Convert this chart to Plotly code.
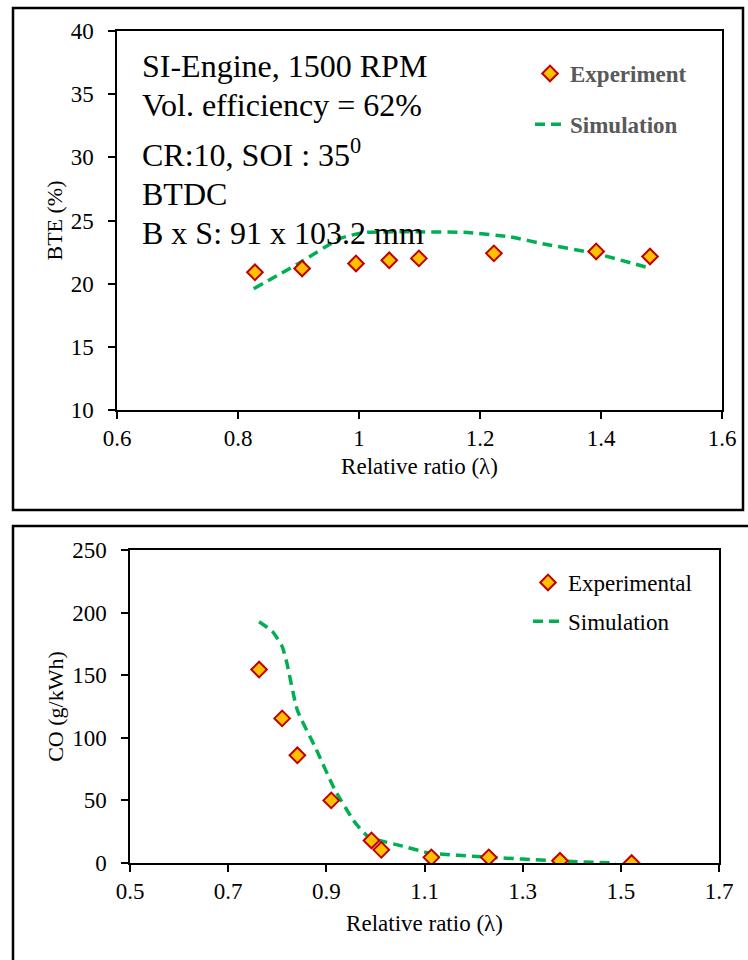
import plotly.graph_objects as go

# ---------------- data ----------------
# Top panel: brake thermal efficiency
bte_exp_lambda = [0.828, 0.906, 0.995, 1.05, 1.099, 1.223, 1.392, 1.481]
bte_exp = [20.9, 21.2, 21.6, 21.85, 22.0, 22.4, 22.55, 22.15]
bte_sim_lambda = [0.826, 0.90, 0.97, 1.01, 1.10, 1.18, 1.25, 1.31, 1.39, 1.483]
bte_sim = [19.6, 21.6, 23.6, 24.05, 24.1, 24.05, 23.7, 23.1, 22.4, 21.2]

# Bottom panel: CO emissions
co_exp_lambda = [0.763, 0.810, 0.841, 0.910, 0.992, 1.012, 1.114, 1.231, 1.376, 1.522]
co_exp = [154.5, 115.5, 86, 50, 18, 10.5, 4.5, 4.5, 1.8, 0]
co_sim_lambda = [0.763, 0.79, 0.81, 0.82, 0.841, 0.878, 0.918, 0.959, 0.988, 1.008,
                 1.055, 1.11, 1.224, 1.376, 1.49]
co_sim = [192.7, 185, 173, 159, 122, 92, 58, 32, 20, 18, 13.5, 8, 4.8, 1.6, 0]

top_xticks = [0.6, 0.8, 1.0, 1.2, 1.4, 1.6]
top_xticklabels = ["0.6", "0.8", "1", "1.2", "1.4", "1.6"]
top_yticks = [10, 15, 20, 25, 30, 35, 40]
bot_xticks = [0.5, 0.7, 0.9, 1.1, 1.3, 1.5, 1.7]
bot_yticks = [0, 50, 100, 150, 200, 250]

info_lines = ["SI-Engine, 1500 RPM", "Vol. efficiency = 62%",
              "CR:10, SOI : 35<sup>0</sup>", "BTDC", "B x S: 91 x 103.2 mm"]

W, H = 748, 960
FONT = "Liberation Serif"
GREEN = "#00B050"
MK = dict(symbol="diamond", size=12, color="#FFC000", line=dict(color="#C00000", width=2))
DASH = dict(color=GREEN, width=3.5, dash="10px,6px", shape="spline", smoothing=0.5)


def px(x):
    return x / W


def py(y):
    return 1 - y / H


fig = go.Figure()

# lines first so markers sit on top; legend order set by legendrank
fig.add_trace(go.Scatter(x=bte_sim_lambda, y=bte_sim, mode="lines", line=DASH,
                         name="Simulation", legend="legend", legendgroup="b", legendrank=2,
                         xaxis="x", yaxis="y"))
fig.add_trace(go.Scatter(x=bte_exp_lambda, y=bte_exp, mode="markers", marker=MK,
                         name="Experiment", legend="legend", legendgroup="a", legendrank=1,
                         xaxis="x", yaxis="y"))
fig.add_trace(go.Scatter(x=co_sim_lambda, y=co_sim, mode="lines", line=DASH,
                         name="Simulation", legend="legend2", legendgroup="d", legendrank=2,
                         xaxis="x2", yaxis="y2"))
fig.add_trace(go.Scatter(x=co_exp_lambda, y=co_exp, mode="markers", marker=MK,
                         name="Experimental", legend="legend2", legendgroup="c", legendrank=1,
                         xaxis="x2", yaxis="y2"))

axis_common = dict(showgrid=False, zeroline=False, showline=True, linecolor="black",
                   linewidth=1.5, mirror=True, ticks="outside", ticklen=7,
                   tickwidth=1.5, tickcolor="black",
                   tickfont=dict(family=FONT, size=23, color="black"),
                   automargin=False)

fig.update_layout(
    width=W, height=H,
    margin=dict(l=0, r=0, t=0, b=0),
    paper_bgcolor="white", plot_bgcolor="white",
    font=dict(family=FONT, color="black"),
    xaxis=dict(domain=[px(117), px(722)], range=[0.6, 1.6], anchor="y",
               tickvals=top_xticks, ticktext=top_xticklabels,
               title=dict(text="Relative ratio (λ)", font=dict(family=FONT, size=23), standoff=8),
               **axis_common),
    yaxis=dict(domain=[py(410), py(31)], range=[10, 40], anchor="x",
               tickvals=top_yticks, ticklabelstandoff=10,
               title=dict(text="BTE (%)", font=dict(family=FONT, size=22), standoff=2),
               **axis_common),
    xaxis2=dict(domain=[px(130), px(719)], range=[0.5, 1.7], anchor="y2",
                tickvals=bot_xticks, tickformat=".1f",
                title=dict(text="Relative ratio (λ)", font=dict(family=FONT, size=23), standoff=12),
                **axis_common),
    yaxis2=dict(domain=[py(863), py(550)], range=[0, 250], anchor="x2",
                tickvals=bot_yticks, ticklabelstandoff=10,
                title=dict(text="CO (g/kWh)", font=dict(family=FONT, size=22), standoff=2),
                **axis_common),
    legend=dict(x=px(530), y=py(52), xanchor="left", yanchor="top",
                bgcolor="rgba(0,0,0,0)", traceorder="grouped", tracegroupgap=18,
                font=dict(family=FONT, size=23, color="#595959", weight="bold")),
    legend2=dict(x=px(528), y=py(561), xanchor="left", yanchor="top",
                 bgcolor="rgba(0,0,0,0)", traceorder="grouped", tracegroupgap=6,
                 font=dict(family=FONT, size=23, color="black")),
    showlegend=True,
)

# outer panel borders
fig.add_shape(type="rect", xref="paper", yref="paper",
              x0=px(13), x1=px(743), y0=py(510), y1=py(8),
              line=dict(color="black", width=2.5), fillcolor="rgba(0,0,0,0)", layer="below")
fig.add_shape(type="rect", xref="paper", yref="paper",
              x0=px(13), x1=1.02, y0=-0.02, y1=py(526),
              line=dict(color="black", width=2.5), fillcolor="rgba(0,0,0,0)", layer="below")

# info text lines
line_centers = [66, 105, 153, 194, 233]
for txt, yc in zip(info_lines, line_centers):
    fig.add_annotation(text=txt, xref="paper", yref="paper", x=px(140), y=py(yc),
                       xanchor="left", yanchor="middle", showarrow=False,
                       font=dict(family=FONT, size=32, color="black"))

fig.write_html("out.html")
